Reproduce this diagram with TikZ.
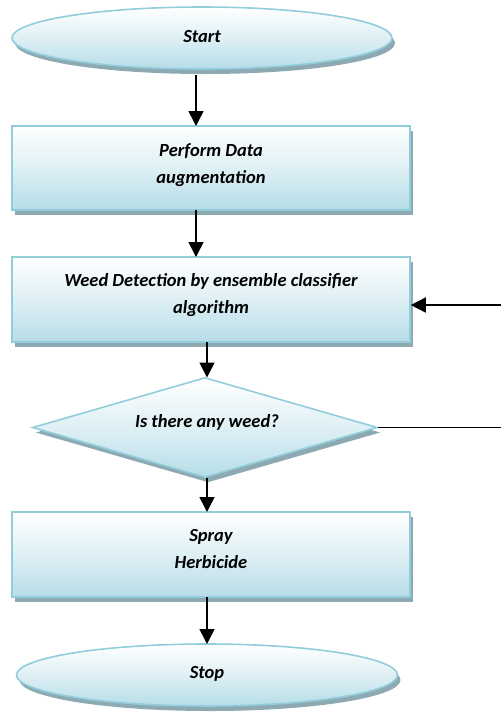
\documentclass[tikz,border=0pt]{standalone}
\usepackage{fontspec}
\setmainfont{Carlito}
\usetikzlibrary{shapes.geometric,arrows.meta,shadows}
\definecolor{bordcol}{HTML}{92CDDC}
\definecolor{fillbot}{HTML}{B6DDE8}
\definecolor{shadcol}{HTML}{8DA9B2}
\tikzset{
  shp/.style={draw=bordcol,line width=1.6pt,top color=white,bottom color=fillbot,middle color=fillbot!45,
    inner sep=0pt,drop shadow={shadow xshift=3pt,shadow yshift=-5pt,fill=shadcol,opacity=1}},
  boxshape/.style={shp,rectangle,minimum width=398pt,minimum height=84pt},
  termshape/.style={shp,ellipse,minimum width=380pt,minimum height=62pt},
  decshape/.style={shp,diamond,minimum width=345pt,minimum height=100pt,aspect=3.45},
  lbl/.style={font=\bfseries\itshape\fontsize{18.5pt}{27pt}\selectfont,align=center,inner sep=0pt},
  arr/.style={line width=1.6pt,-{Triangle[length=15pt,width=15pt]}},
  ln/.style={line width=1.4pt}
}
\begin{document}
\begin{tikzpicture}[x=1pt,y=-1pt]
\useasboundingbox (0,0) rectangle (501,721);
\node[termshape] (start) at (202,38) {};
\node[lbl] (tstart) at (202,37) {Start};
\node[boxshape] (b1) at (211,168) {};
\node[lbl,anchor=base] (t1) at (211,183) {Perform Data\\augmentation};
\node[boxshape,minimum height=85pt] (b2) at (211,299.5) {};
\node[lbl,anchor=base] (t2) at (211,313) {Weed Detection by ensemble classifier\\algorithm};
\node[decshape] (d) at (205,427.5) {};
\node[lbl] (td) at (207,422) {Is there any weed?};
\node[boxshape,minimum height=85pt] (b3) at (211,554.5) {};
\node[lbl,anchor=base] (t3) at (211,568) {Spray\\Herbicide};
\node[termshape,minimum width=381pt,minimum height=62pt] (stop) at (207,675) {};
\node[lbl] (tstop) at (207,674) {Stop};
\coordinate (r1) at (501,427.5);
\coordinate (r2) at (501,305);
\draw[arr] (196,75) -- (196,126);
\draw[arr] (196,210) -- (196,257);
\draw[arr] (207,342) -- (207,377.5);
\draw[arr] (207,477.5) -- (207,512);
\draw[arr] (207,597) -- (207,644);
\draw[ln] (d.east) -- (r1);
\draw[arr] (r2) -- (b2.east |- r2);
\end{tikzpicture}
\end{document}
